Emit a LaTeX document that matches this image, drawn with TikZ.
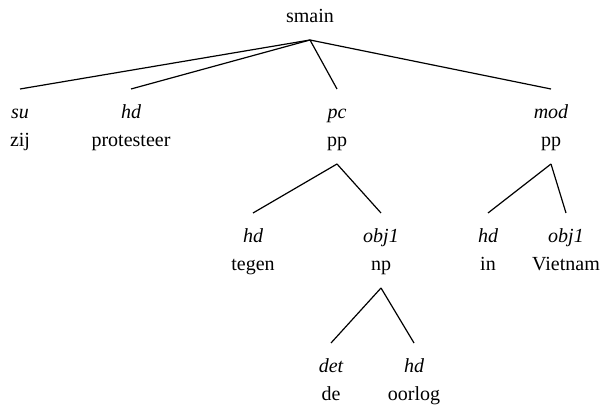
\documentclass[tikz,border=0pt]{standalone}
\usepackage{fontspec}
\setmainfont{Liberation Serif}
\usetikzlibrary{positioning}
\tikzset{
  catnode/.style={font=\fontsize{20}{24}\selectfont,anchor=base,inner sep=0pt,
    text height=13pt,text depth=4pt,outer ysep=13pt},
  relnode/.style={font=\fontsize{20}{24}\selectfont\itshape,anchor=base,inner sep=0pt,
    text height=13pt,text depth=4pt,outer ysep=17pt},
  branch/.style={line width=1.2pt,draw=black}
}

\begin{document}
\begin{tikzpicture}[x=1pt,y=1pt]
  \useasboundingbox (0,0) rectangle (608,412);

  % Root
  \node[catnode] (smain) at (310,389) {smain};

  % First level
  \node[relnode] (su)    at (20,293)  {su};
  \node[catnode] (zij)   at (20,265)  {zij};
  \node[relnode] (hdA)   at (131,293) {hd};
  \node[catnode] (prot)  at (131,265) {protesteer};
  \node[relnode] (pc)    at (337,293) {pc};
  \node[catnode] (ppA)   at (337,265) {pp};
  \node[relnode] (mod)   at (551,293) {mod};
  \node[catnode] (ppB)   at (551,265) {pp};

  % Second level
  \node[relnode] (hdB)   at (253,169) {hd};
  \node[catnode] (tegen) at (253,141) {tegen};
  \node[relnode] (objA)  at (381,169) {obj1};
  \node[catnode] (np)    at (381,141) {np};
  \node[relnode] (hdC)   at (488,169) {hd};
  \node[catnode] (in)    at (488,141) {in};
  \node[relnode] (objB)  at (566,169) {obj1};
  \node[catnode] (viet)  at (566,141) {Vietnam};

  % Third level
  \node[relnode] (det)   at (331,39)  {det};
  \node[catnode] (de)    at (331,11)  {de};
  \node[relnode] (hdD)   at (414,39)  {hd};
  \node[catnode] (oorlog) at (414,11) {oorlog};

  % Branches
  \foreach \c in {su,hdA,pc,mod}
    \draw[branch] (smain.south) -- (\c.north);
  \foreach \c in {hdB,objA}
    \draw[branch] (ppA.south) -- (\c.north);
  \foreach \c in {hdC,objB}
    \draw[branch] (ppB.south) -- (\c.north);
  \foreach \c in {det,hdD}
    \draw[branch] (np.south) -- (\c.north);

\end{tikzpicture}
\end{document}
